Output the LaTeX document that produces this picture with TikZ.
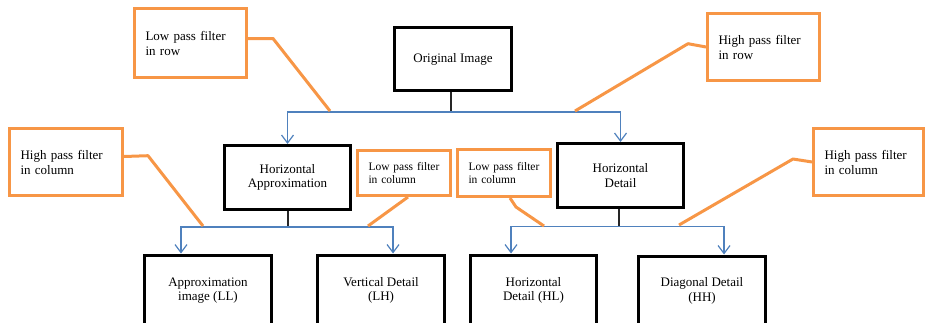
\documentclass[tikz,border=0pt]{standalone}
\usepackage{fontspec}
\setmainfont{Liberation Serif}
\usetikzlibrary{arrows.meta,calc}

\definecolor{callorange}{HTML}{F79646}
\definecolor{flowblue}{HTML}{4F81BD}

\tikzset{
  stagebox/.style={draw=black, line width=3pt, fill=white, inner sep=0pt,
    align=center, font=\fontsize{13}{14.5}\selectfont},
  notebox/.style={draw=callorange, line width=3pt, fill=white, inner ysep=0pt,
    inner xsep=11pt, align=left, font=\fontsize{13}{15}\selectfont},
  smallnote/.style={notebox, font=\fontsize{11.5}{12.5}\selectfont},
  stem/.style={draw=black!85, line width=1.1pt},
  branch/.style={draw=flowblue, line width=1.2pt,
    -{Straight Barb[length=8pt,width=12pt,line width=1.2pt]}},
  leader/.style={draw=callorange, line width=3pt, line join=round}
}

\begin{document}
\begin{tikzpicture}[x=1pt, y=-1pt]
  \useasboundingbox (0,0) rectangle (926,322);
  \clip (0,0) rectangle (926,322);

  % decomposition stages
  \node[stagebox, minimum width=117, minimum height=63] (orig) at (453,59) {Original Image};
  \node[stagebox, minimum width=126, minimum height=64] (ha) at (287.5,177.5) {Horizontal\\Approximation};
  \node[stagebox, minimum width=126, minimum height=64] (hd) at (620.5,175.5) {Horizontal\\Detail};
  \node[stagebox, minimum width=127, minimum height=71] (ll) at (208,290.5) {Approximation\\image (LL)};
  \node[stagebox, minimum width=127, minimum height=71] (lh) at (381,290.5) {Vertical Detail\\(LH)};
  \node[stagebox, minimum width=126, minimum height=71] (hl) at (533.5,290.5) {Horizontal\\Detail (HL)};
  \node[stagebox, minimum width=127, minimum height=70] (hh) at (702,291) {Diagonal Detail\\(HH)};

  % branch points
  \coordinate (j1) at (451,112);
  \coordinate (j2) at (288,227);
  \coordinate (j3) at (619,226.5);

  % first level split
  \draw[stem] (orig.south -| j1) -- (j1);
  \draw[branch] (j1) -| (ha.north);
  \draw[branch] (j1) -| (hd.north);

  % second level splits
  \draw[stem] (ha.south -| j2) -- (j2);
  \draw[branch] (j2) -| ($(ll.north)+(-27,0)$);
  \draw[branch] (j2) -| ($(lh.north)+(12,0)$);

  \draw[stem] (hd.south -| j3) -- (j3);
  \draw[branch] (j3) -| ($(hl.north)+(-22.5,0)$);
  \draw[branch] (j3) -| ($(hh.north)+(22,0)$);

  % filter callouts
  \node[notebox, text width=90, minimum height=69] (lprow) at (190.5,43) {Low pass filter\\in row};
  \node[notebox, text width=90, minimum height=67] (hprow) at (763.5,47) {High pass filter\\in row};
  \node[notebox, text width=91, minimum height=67] (hpcolL) at (66,162) {High pass filter\\in column};
  \node[smallnote, text width=71, minimum height=45] (lpcolL) at (404,173) {Low pass filter\\in column};
  \node[smallnote, text width=71, minimum height=47] (lpcolR) at (504,173) {Low pass filter\\in column};
  \node[notebox, text width=88, minimum height=67] (hpcolR) at (868.5,162) {High pass filter\\in column};

  % leader ends on the branch lines
  \coordinate (t1) at (330,111);
  \coordinate (t2) at (575,111);
  \coordinate (t3) at (203,226);
  \coordinate (t4) at (368,226);
  \coordinate (t5) at (544,226);
  \coordinate (t6) at (679,225);

  \draw[leader] ($(lprow.east)+(0,-4.5)$) -- (273,38.5) -- (t1);
  \draw[leader] (hprow.west) -- (688,43.7) -- (t2);
  \draw[leader] ($(hpcolL.east)+(0,-5.5)$) -- (148,155.7) -- (t3);
  \draw[leader] ($(lpcolL.south)+(4,0)$) -- (t4);
  \draw[leader] ($(lpcolR.south)+(6,0)$) -- (516,207) -- (t5);
  \draw[leader] (hpcolR.west) -- (793,159) -- (t6);
\end{tikzpicture}
\end{document}
